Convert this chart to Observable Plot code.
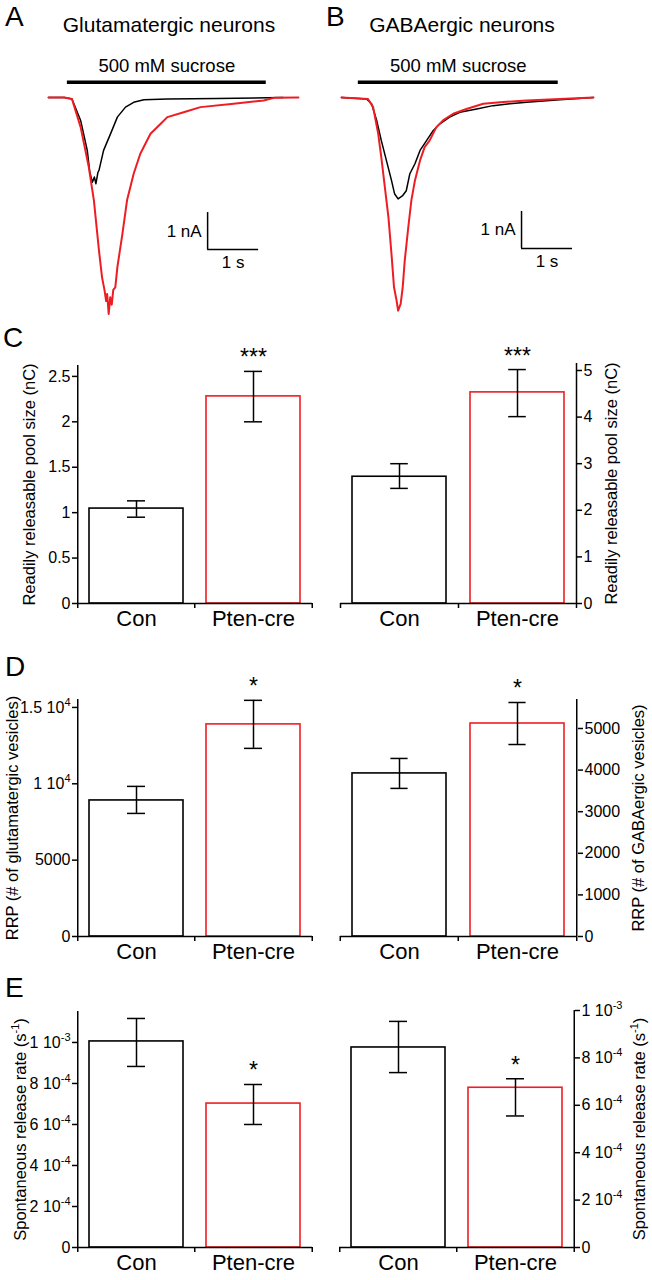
<!DOCTYPE html>
<html><head><meta charset="utf-8">
<script src="https://cdn.jsdelivr.net/npm/d3@7"></script>
<script src="https://cdn.jsdelivr.net/npm/@observablehq/plot@0.6"></script>
<style>
body{margin:0;background:#fff;}
#fig{position:relative;width:652px;height:1280px;font-family:"Liberation Sans",Arial,Helvetica,sans-serif;color:#000;overflow:hidden;background:#fff;}
.letter{position:absolute;font-size:28px;line-height:1;}
.ttl{position:absolute;font-size:21px;line-height:1;white-space:nowrap;transform:translateX(-50%);}
</style></head><body><div id="fig"></div>
<script>
// ---------- Traces (time in s, current in nA) ----------
const traceTimeGluCon  = [0, 0.31, 0.46, 0.63, 0.76, 0.81, 0.86, 0.90, 0.93, 0.97, 0.99, 1.08, 1.22, 1.35, 1.51, 1.67, 1.87, 2.33, 3.3, 4.29, 4.6];
const traceCurrGluCon  = [0, 0, -0.04, -0.62, -1.43, -2.02, -2.29, -2.15, -2.33, -2.02, -1.97, -1.43, -0.97, -0.53, -0.26, -0.13, -0.06, -0.04, -0.03, -0.01, 0];
const traceTimeGluPten = [0, 0.31, 0.46, 0.63, 0.79, 0.89, 0.99, 1.05, 1.10, 1.13, 1.15, 1.18, 1.21, 1.24, 1.27, 1.31, 1.35, 1.45, 1.54, 1.67, 1.80, 2.0, 2.2, 2.33, 2.65, 2.98, 3.63, 4.22, 4.42, 4.9];
const traceCurrGluPten = [0, 0, -0.04, -0.80, -1.88, -2.78, -4.14, -4.86, -5.22, -5.5, -5.31, -5.85, -5.4, -5.6, -5.2, -5.13, -4.59, -3.68, -2.78, -2.06, -1.52, -0.98, -0.71, -0.53, -0.40, -0.26, -0.17, -0.08, -0.01, 0];
const traceTimeGabaCon  = [0, 0.49, 0.59, 0.69, 0.78, 0.88, 0.98, 1.04, 1.11, 1.20, 1.27, 1.34, 1.44, 1.54, 1.67, 1.80, 1.93, 2.12, 2.32, 2.65, 2.97, 3.30, 3.63, 4.28, 4.94];
const traceCurrGabaCon  = [0, -0.04, -0.17, -0.62, -1.16, -1.70, -2.24, -2.6, -2.74, -2.65, -2.52, -2.06, -1.79, -1.43, -1.16, -0.89, -0.71, -0.53, -0.40, -0.31, -0.22, -0.17, -0.13, -0.06, 0];
const traceTimeGabaPten = [0, 0.52, 0.62, 0.72, 0.78, 0.85, 0.92, 0.98, 1.03, 1.08, 1.11, 1.16, 1.20, 1.24, 1.31, 1.37, 1.44, 1.54, 1.63, 1.73, 1.86, 1.99, 2.19, 2.45, 2.78, 3.11, 3.63, 4.28, 4.94];
const traceCurrGabaPten = [0, -0.04, -0.26, -0.98, -1.61, -2.42, -3.23, -4.23, -5.13, -5.49, -5.76, -5.58, -5.13, -4.41, -3.50, -2.78, -2.24, -1.70, -1.34, -1.16, -0.80, -0.62, -0.44, -0.31, -0.17, -0.13, -0.08, -0.04, 0];
const sucroseGlu  = [0.37, 4.27];   // application window (s)
const sucroseGaba = [0.33, 4.25];
const sucroseLevel = 0.41;           // nA, drawn above the traces
const scaleBarGlu  = [3.12, -4.11];  // corner (s, nA), bars are 1 s and 1 nA
const scaleBarGaba = [3.53, -4.08];

// ---------- Bars ----------
const groups = ["Con", "Pten-cre"];
const rrpChargeGlu = [1.045, 2.28], rrpChargeGluLo = [0.95, 2.0], rrpChargeGluHi = [1.13, 2.555];
const rrpChargeGaba = [2.72, 4.53], rrpChargeGabaLo = [2.47, 4.01], rrpChargeGabaHi = [3.0, 5.02];
const sigC = ["", "***"];
const rrpVesGlu = [8910, 13890], rrpVesGluLo = [8060, 12320], rrpVesGluHi = [9830, 15465];
const rrpVesGaba = [3920, 5120], rrpVesGabaLo = [3560, 4615], rrpVesGabaHi = [4280, 5625];
const sigD = ["", "*"];
const sponGlu = [1.005e-3, 7.02e-4], sponGluLo = [8.83e-4, 6.0e-4], sponGluHi = [1.117e-3, 7.95e-4];
const sponGaba = [8.44e-4, 6.74e-4], sponGabaLo = [7.38e-4, 5.55e-4], sponGabaHi = [9.54e-4, 7.12e-4];
const sigE = ["", "*"];
const ticksCGlu = [0, 0.5, 1, 1.5, 2, 2.5];
const ticksCGaba = [0, 1, 2, 3, 4, 5];
const ticksDGlu = [0, 5000, 10000, 15000];
const ticksDGaba = [0, 1000, 2000, 3000, 4000, 5000];
const ticksE = [0, 2e-4, 4e-4, 6e-4, 8e-4, 1e-3];

const FONT = '"Liberation Sans", Arial, Helvetica, sans-serif';
const RED = "#ee1d23";
const PX_S = 51, PX_NA = 37;
const fig = document.getElementById("fig");

function place(el, left, top) {
  el.style.position = "absolute"; el.style.left = left + "px"; el.style.top = top + "px";
  fig.appendChild(el);
  supify(el);
}

function supify(root) {
  root.querySelectorAll("text").forEach(el => {
    const s = el.textContent;
    if (!s.includes("^")) return;
    const fs = parseFloat(getComputedStyle(el).fontSize) || 15;
    const small = Math.round(fs * 0.68), raise = Math.round(fs * 0.42);
    const parts = s.split(/\^(-?\d+)/);
    while (el.firstChild) el.removeChild(el.firstChild);
    let raised = false;
    parts.forEach((part, k) => {
      if (part === "") return;
      const ts = document.createElementNS("http://www.w3.org/2000/svg", "tspan");
      ts.textContent = part;
      if (k % 2 === 1) { ts.setAttribute("dy", -raise); ts.setAttribute("font-size", small); raised = true; }
      else if (raised) { ts.setAttribute("dy", raise); raised = false; }
      el.appendChild(ts);
    });
  });
}

function tracePanel(p) {
  const con = p.tCon.map((t, k) => ({t, i: p.iCon[k]}));
  const pten = p.tPten.map((t, k) => ({t, i: p.iPten[k]}));
  const [sx, sy] = p.bar;
  const svg = Plot.plot({
    width: p.width, height: p.height, margin: 0,
    style: {fontFamily: FONT, color: "#000", background: "none", overflow: "visible"},
    x: {domain: [-p.ox / PX_S, (p.width - p.ox) / PX_S], axis: null},
    y: {domain: [-(p.height - p.oy) / PX_NA, p.oy / PX_NA], axis: null},
    marks: [
      Plot.line(con, {x: "t", y: "i", stroke: "#000", strokeWidth: 1.5}),
      Plot.line(pten, {x: "t", y: "i", stroke: RED, strokeWidth: 2}),
      Plot.ruleY([sucroseLevel], {x1: p.suc[0], x2: p.suc[1], stroke: "#000", strokeWidth: 3.5}),
      Plot.text(["500 mM sucrose"], {x: (p.suc[0] + p.suc[1]) / 2, y: sucroseLevel, dy: -10, lineAnchor: "bottom", fontSize: 18.5, text: d => d}),
      Plot.ruleX([sx], {y1: sy, y2: sy + 1, stroke: "#000", strokeWidth: 1.5}),
      Plot.ruleY([sy], {x1: sx, x2: sx + 1, stroke: "#000", strokeWidth: 1.5}),
      Plot.text(["1 nA"], {x: sx, y: sy + 0.5, dx: -6, textAnchor: "end", fontSize: 17, text: d => d}),
      Plot.text(["1 s"], {x: sx + 0.5, y: sy, dy: 6, lineAnchor: "top", fontSize: 17, text: d => d})
    ]
  });
  place(svg, p.left, p.top);
}

function barPanel(p) {
  const rows = groups.map((g, k) => ({group: g, mean: p.mean[k], lo: p.lo[k], hi: p.hi[k], sig: p.sig[k]}));
  const W = p.width - p.ml - p.mr, q = W / 4, bw = 0.4 * W, cap = (bw - 18) / 2;
  const right = p.side === "right";
  const svg = Plot.plot({
    width: p.width, height: p.height,
    marginTop: p.mt, marginBottom: p.mb, marginLeft: p.ml, marginRight: p.mr,
    style: {fontFamily: FONT, fontSize: "16px", color: "#000", background: "none", overflow: "visible"},
    x: {domain: groups, paddingInner: 0.2, paddingOuter: 0.1, axis: null},
    y: {domain: [0, p.ymax], axis: null},
    color: {domain: groups, range: ["#000", RED]},
    marks: [
      Plot.barY(rows, {x: "group", y: "mean", fill: "#fff", stroke: "group", strokeWidth: 1.6}),
      Plot.ruleX(rows, {x: "group", y1: "lo", y2: "hi", stroke: "#000", strokeWidth: 1.5}),
      Plot.tickY(rows, {x: "group", y: "lo", stroke: "#000", strokeWidth: 1.5, insetLeft: cap, insetRight: cap}),
      Plot.tickY(rows, {x: "group", y: "hi", stroke: "#000", strokeWidth: 1.5, insetLeft: cap, insetRight: cap}),
      Plot.text(rows, {x: "group", y: "hi", text: "sig", dy: -6, lineAnchor: "bottom", fontSize: 23}),
      // x axis line and the tick marks between the groups
      Plot.ruleY([0], {stroke: "#000", strokeWidth: 1.5}),
      Plot.ruleX(groups, {x: d => d, y1: 0, y2: 0, dx: -q, insetBottom: -5, stroke: "#000", strokeWidth: 1.5}),
      Plot.ruleX(groups.slice(-1), {x: d => d, y1: 0, y2: 0, dx: q, insetBottom: -5, stroke: "#000", strokeWidth: 1.5}),
      // y axis line at the frame edge
      Plot.ruleX(right ? groups.slice(-1) : groups.slice(0, 1), {x: d => d, y1: 0, y2: p.ymax, dx: right ? q : -q, stroke: "#000", strokeWidth: 1.5}),
      Plot.axisX({tickSize: 0, tickPadding: 7, fontSize: 22, label: null}),
      Plot.axisY({anchor: p.side, ticks: p.ticks, tickFormat: p.fmt, tickSize: 5, tickPadding: 2, fontSize: 16, label: null, strokeWidth: 1.5}),
      Plot.text([p.label], {frameAnchor: p.side, dx: right ? p.lab : -p.lab, rotate: -90, textAnchor: "middle", fontSize: 16.5, lineAnchor: "middle", text: d => d})
    ]
  });
  place(svg, p.left, p.top);
}

const fmtPlain = d => String(d);
const fmtD = d => d >= 1e4 ? `${d / 1e4} 10^4` : String(d);
const fmtSci = d => {
  if (d === 0) return "0";
  const e = Math.floor(Math.log10(d) + 1e-9);
  return `${Math.round(d / 10 ** e * 10) / 10} 10^${e}`;
};

tracePanel({left: 0, top: 40, width: 326, height: 280, ox: 48, oy: 57,
  tCon: traceTimeGluCon, iCon: traceCurrGluCon, tPten: traceTimeGluPten, iPten: traceCurrGluPten,
  suc: sucroseGlu, bar: scaleBarGlu});
tracePanel({left: 326, top: 40, width: 326, height: 280, ox: 15, oy: 57,
  tCon: traceTimeGabaCon, iCon: traceCurrGabaCon, tPten: traceTimeGabaPten, iPten: traceCurrGabaPten,
  suc: sucroseGaba, bar: scaleBarGaba});

barPanel({left: 0, top: 335, width: 326, height: 300, mt: 30, mb: 32, ml: 77, mr: 14, side: "left", lab: 48,
  ymax: 2.62, ticks: ticksCGlu, fmt: fmtPlain, label: "Readily releasable pool size (nC)",
  mean: rrpChargeGlu, lo: rrpChargeGluLo, hi: rrpChargeGluHi, sig: sigC});
barPanel({left: 326, top: 335, width: 326, height: 300, mt: 28, mb: 32, ml: 14, mr: 76, side: "right", lab: 35,
  ymax: 5.15, ticks: ticksCGaba, fmt: fmtPlain, label: "Readily releasable pool size (nC)",
  mean: rrpChargeGaba, lo: rrpChargeGabaLo, hi: rrpChargeGabaHi, sig: sigC});
barPanel({left: 0, top: 660, width: 326, height: 306, mt: 39, mb: 30, ml: 77, mr: 14, side: "left", lab: 65,
  ymax: 15520, ticks: ticksDGlu, fmt: fmtD, label: "RRP (# of glutamatergic vesicles)",
  mean: rrpVesGlu, lo: rrpVesGluLo, hi: rrpVesGluHi, sig: sigD});
barPanel({left: 326, top: 660, width: 326, height: 306, mt: 39, mb: 30, ml: 14, mr: 75, side: "right", lab: 61,
  ymax: 5697, ticks: ticksDGaba, fmt: fmtPlain, label: "RRP (# of GABAergic vesicles)",
  mean: rrpVesGaba, lo: rrpVesGabaLo, hi: rrpVesGabaHi, sig: sigD});
barPanel({left: 0, top: 975, width: 326, height: 305, mt: 36, mb: 33, ml: 77, mr: 14, side: "left", lab: 57,
  ymax: 1.151e-3, ticks: ticksE, fmt: fmtSci, label: "Spontaneous release rate (s^-1)",
  mean: sponGlu, lo: sponGluLo, hi: sponGluHi, sig: sigE});
barPanel({left: 326, top: 975, width: 326, height: 305, mt: 35, mb: 33, ml: 13, mr: 78, side: "right", lab: 65,
  ymax: 1e-3, ticks: ticksE, fmt: fmtSci, label: "Spontaneous release rate (s^-1)",
  mean: sponGaba, lo: sponGabaLo, hi: sponGabaHi, sig: sigE});

// panel letters and titles
[["A", 5, 3], ["B", 326, 3], ["C", 3, 324], ["D", 5, 653], ["E", 5, 974]].forEach(([t, x, y]) => {
  const d = document.createElement("div"); d.className = "letter"; d.textContent = t;
  d.style.left = x + "px"; d.style.top = y + "px"; fig.appendChild(d);
});
[["Glutamatergic neurons", 169, 14], ["GABAergic neurons", 462, 14]].forEach(([t, x, y]) => {
  const d = document.createElement("div"); d.className = "ttl"; d.textContent = t;
  d.style.left = x + "px"; d.style.top = y + "px"; fig.appendChild(d);
});
</script></body></html>
